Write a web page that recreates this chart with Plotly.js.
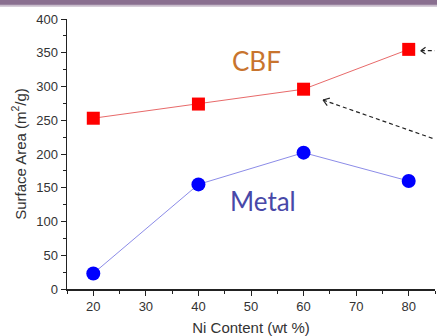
<!DOCTYPE html>
<html>
<head>
<meta charset="utf-8">
<script src="https://cdn.plot.ly/plotly-3.0.1.min.js"></script>
<style>html,body{margin:0;padding:0;background:#fff;}#chart{width:437px;height:336px;}</style>
</head>
<body>
<div id="chart"></div>
<script>
var niContent = [20, 40, 60, 80];
var cbfArea = [253, 274, 296, 355];
var metalArea = [23, 155, 202, 160];
var xTicks = [20, 30, 40, 50, 60, 70, 80];
var yTicks = [0, 50, 100, 150, 200, 250, 300, 350, 400];

var traces = [
  {x: niContent, y: cbfArea, mode: 'lines+markers', name: 'CBF',
   line: {color: '#e86a6a', width: 1},
   marker: {symbol: 'square', size: 13, color: '#ff0000'}, cliponaxis: false},
  {x: niContent, y: metalArea, mode: 'lines+markers', name: 'Metal',
   line: {color: '#8c8ce8', width: 1},
   marker: {symbol: 'circle', size: 14, color: '#0000ff'}, cliponaxis: false}
];

var sans = 'Liberation Sans, Arial, sans-serif';
var axisFont = {family: sans, size: 13, color: '#333'};
var titleFont = {family: sans, size: 15, color: '#333'};
var layout = {
  width: 437, height: 336,
  margin: {l: 67, r: 2, t: 19, b: 47},
  paper_bgcolor: '#fff', plot_bgcolor: '#fff',
  showlegend: false,
  xaxis: {range: [15, 85], tickvals: xTicks, ticks: 'outside', ticklen: 5, tickwidth: 1,
    tickcolor: '#222', showline: true, linecolor: '#222', linewidth: 1.5, showgrid: false,
    zeroline: false, tickfont: axisFont,
    minor: {dtick: 5, tick0: 15, ticks: 'outside', ticklen: 3, tickcolor: '#222', showgrid: false},
    title: {text: 'Ni Content (wt %)', font: titleFont, standoff: 12}},
  yaxis: {range: [0, 400], tickvals: yTicks, ticks: 'outside', ticklen: 5, tickwidth: 1,
    tickcolor: '#222', showline: true, linecolor: '#222', linewidth: 1.5, showgrid: false,
    zeroline: false, tickfont: axisFont,
    minor: {dtick: 25, ticks: 'outside', ticklen: 3, tickcolor: '#222', showgrid: false},
    title: {text: 'Surface Area (m<sup>2</sup>/g)', font: titleFont, standoff: 6}},
  shapes: [
    {type: 'rect', xref: 'paper', yref: 'paper', x0: -0.2, x1: 1.01, y0: 1.052, y1: 1.075,
     fillcolor: '#8a7090', line: {width: 0}, layer: 'above'},
    {type: 'rect', xref: 'paper', yref: 'paper', x0: -0.2, x1: 1.01, y0: 1.045, y1: 1.053,
     fillcolor: '#c8bccb', line: {width: 0}, layer: 'above'}
  ],
  annotations: [
    {x: 51.1, y: 338, xref: 'x', yref: 'y', text: 'CBF', showarrow: false,
     font: {family: 'Lato, DejaVu Sans, sans-serif', size: 26, color: '#c8742e'}},
    {x: 52.3, y: 130, xref: 'x', yref: 'y', text: 'Metal', showarrow: false,
     font: {family: 'Lato, DejaVu Sans, sans-serif', size: 26, color: '#4848a8'}}
  ]
};
// dashed pointer arrows (slide decorations)
var dk = '#222';
layout.shapes.push(
  {type: 'line', xref: 'x', yref: 'y', x0: 82.3, y0: 353, x1: 85.5, y1: 353, line: {color: dk, width: 1.2, dash: '4px,3px'}},
  {type: 'line', xref: 'x', yref: 'y', x0: 82.3, y0: 353, x1: 83.2, y1: 358, line: {color: dk, width: 1.2}},
  {type: 'line', xref: 'x', yref: 'y', x0: 82.3, y0: 353, x1: 83.2, y1: 348, line: {color: dk, width: 1.2}},
  {type: 'line', xref: 'x', yref: 'y', x0: 63.7, y0: 280, x1: 85.5, y1: 220.5, line: {color: dk, width: 1.2, dash: '4px,3px'}},
  {type: 'line', xref: 'x', yref: 'y', x0: 63.7, y0: 280, x1: 65.0, y1: 282.8, line: {color: dk, width: 1.2}},
  {type: 'line', xref: 'x', yref: 'y', x0: 63.7, y0: 280, x1: 64.5, y1: 271.6, line: {color: dk, width: 1.2}}
);
Plotly.newPlot('chart', traces, layout, {displayModeBar: false, staticPlot: true});
</script>
</body>
</html>
